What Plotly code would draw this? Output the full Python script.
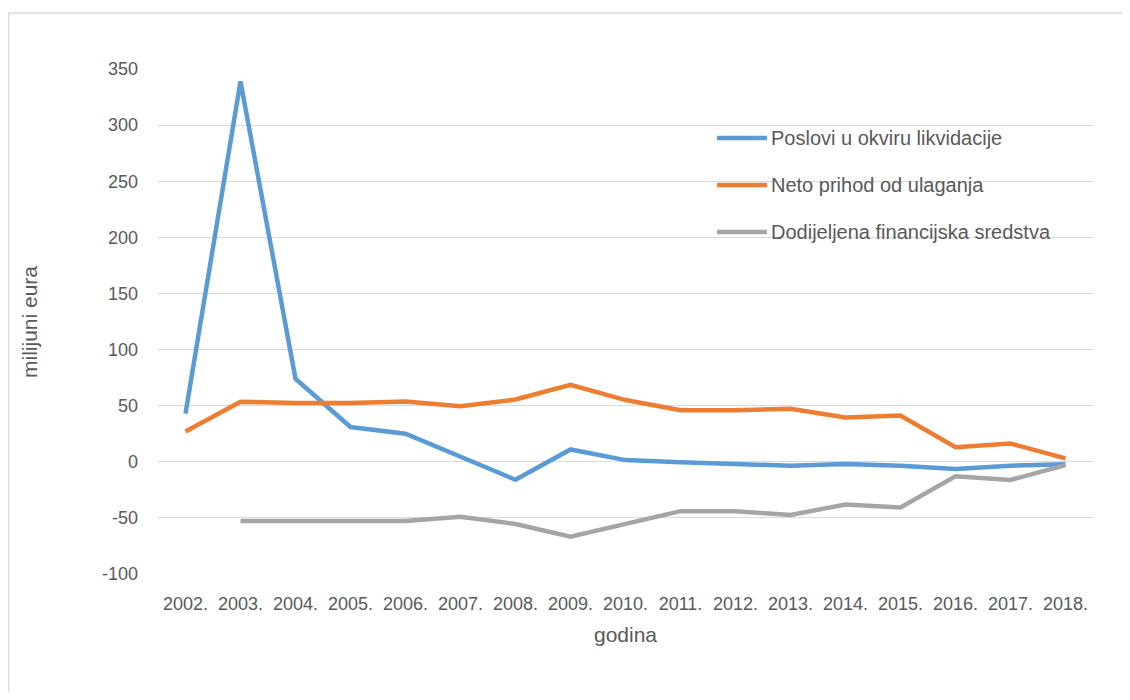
import plotly.graph_objects as go

years = ["2002.", "2003.", "2004.", "2005.", "2006.", "2007.", "2008.", "2009.", "2010.",
         "2011.", "2012.", "2013.", "2014.", "2015.", "2016.", "2017.", "2018."]
poslovi = [43, 339, 74, 31, 25, 4, -16, 11, 1.5, -0.5, -2, -3.5, -2, -3.5, -6.5, -3.5, -2.3]
neto = [27, 53.5, 52.3, 52.3, 53.8, 49.5, 55.5, 68.5, 55, 46, 46, 47.3, 39.5, 41.2, 13, 16.3, 3]
dodijeljena = [None, -52.8, -52.8, -52.8, -52.8, -49, -55.5, -66.7, -55, -44, -44, -47.5, -38, -40.8, -13, -16.2, -3]

y_tick_vals = [-100, -50, 0, 50, 100, 150, 200, 250, 300, 350]
y_tick_text = ["-100", "-50", "0", "50", "100", "150", "200", "250", "300", "350"]

names = ["Poslovi u okviru likvidacije", "Neto prihod od ulaganja", "Dodijeljena financijska sredstva"]
series = [poslovi, neto, dodijeljena]
colors = ["#5B9BD5", "#ED7D31", "#A5A5A5"]

FONT = "Liberation Sans, Arial, sans-serif"
TXT = "#595959"

# page is offset by 8px body margin; coordinates below are in figure pixels
W, H = 1114, 684
L, R, T, B = 150, 1085, 61, 566

def px_x(px):
    return (px - L) / (R - L)

def px_y(py):
    return (B - py) / (B - T)

fig = go.Figure()
for name, vals, col in zip(names, series, colors):
    fig.add_trace(go.Scatter(x=years, y=vals, name=name, mode="lines",
                             line=dict(color=col, width=4.5),
                             connectgaps=False, showlegend=False))

shapes = [dict(type="rect", xref="paper", yref="paper",
               x0=px_x(0.5), x1=px_x(1130), y0=px_y(700), y1=px_y(5),
               line=dict(color="#D9D9D9", width=1.5), fillcolor="rgba(0,0,0,0)", layer="below")]
annotations = []
legend_y = [130, 177, 224]
for name, col, ly in zip(names, colors, legend_y):
    shapes.append(dict(type="line", xref="paper", yref="paper",
                       x0=px_x(709), x1=px_x(759), y0=px_y(ly), y1=px_y(ly),
                       line=dict(color=col, width=4.5)))
    annotations.append(dict(xref="paper", yref="paper", x=px_x(761), y=px_y(ly),
                            text=name, showarrow=False, xanchor="left", yanchor="middle",
                            font=dict(family=FONT, size=20, color=TXT)))

annotations.append(dict(xref="paper", yref="paper", x=px_x(21), y=px_y(314),
                        text="milijuni eura", showarrow=False, textangle=-90,
                        xanchor="center", yanchor="middle",
                        font=dict(family=FONT, size=21, color=TXT)))

fig.update_layout(
    width=W, height=H,
    margin=dict(l=L, r=W - R, t=T, b=H - B, pad=0),
    paper_bgcolor="white", plot_bgcolor="white",
    font=dict(family=FONT, size=18, color=TXT),
    shapes=shapes, annotations=annotations,
    xaxis=dict(type="category", range=[-0.5, len(years) - 0.5],
               showgrid=False, zeroline=False, showline=False, ticks="",
               tickfont=dict(family=FONT, size=18, color=TXT),
               ticklabelstandoff=17,
               title=dict(text="godina", font=dict(family=FONT, size=21, color=TXT), standoff=14)),
    yaxis=dict(range=[-100, 350], tickmode="array", tickvals=y_tick_vals, ticktext=y_tick_text,
               showgrid=True, gridcolor="#D9D9D9", gridwidth=1.2,
               zeroline=False, showline=False, ticks="",
               tickfont=dict(family=FONT, size=18, color=TXT),
               ticklabelstandoff=19),
)

fig.write_html("out.html")
